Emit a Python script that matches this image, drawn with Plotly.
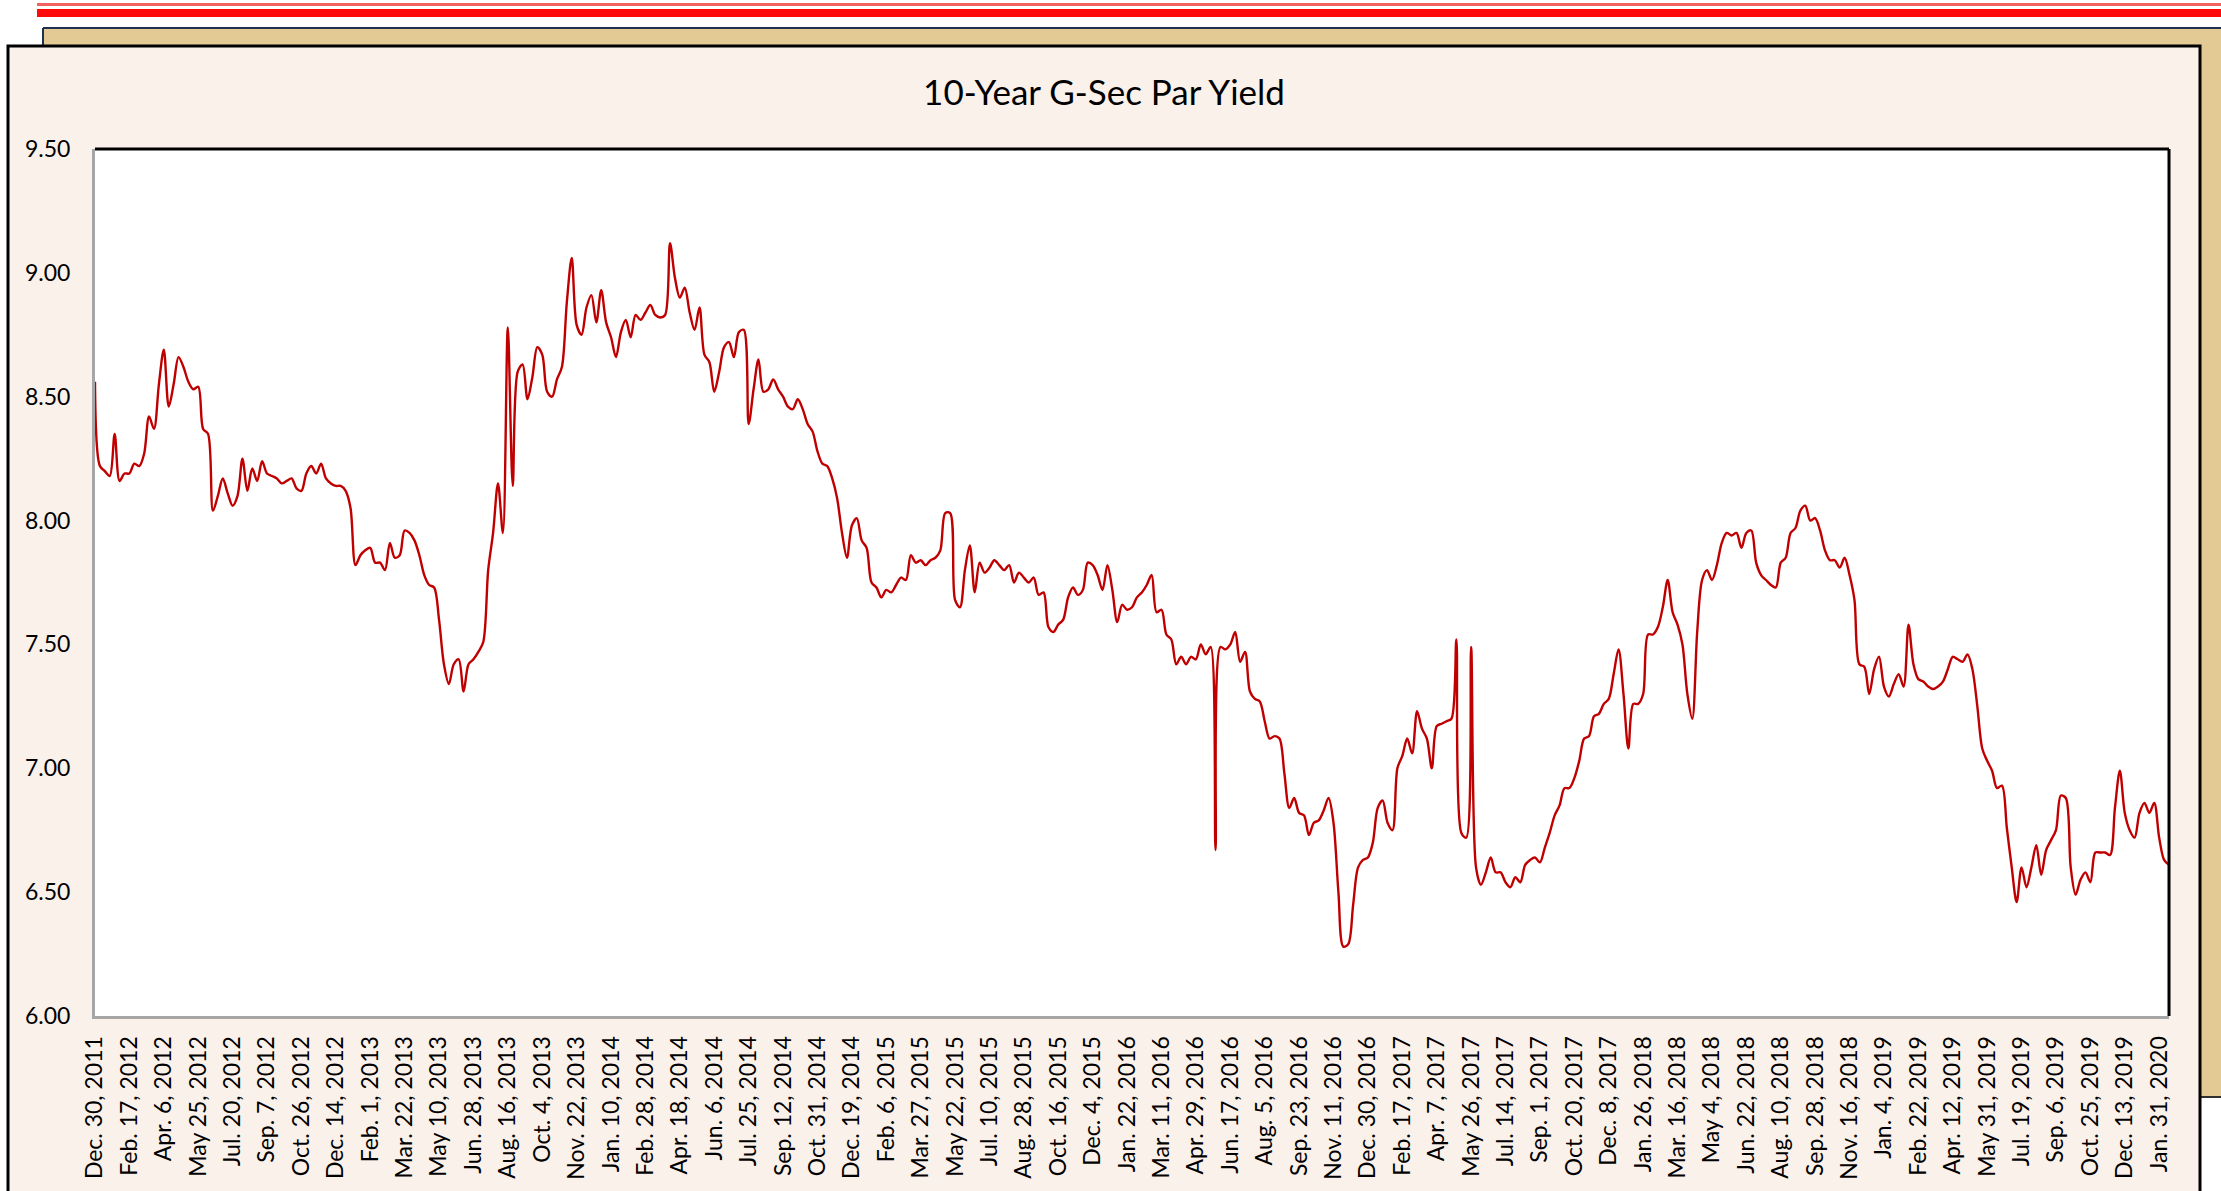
import pandas as pd
import plotly.graph_objects as go

# ---------------- data ----------------
title_text = "10-Year G-Sec Par Yield"

# weekly (Friday) observation dates; two weeks are absent from the series
week_dates = pd.date_range("2011-12-30", periods=425, freq="7D")
missing_weeks = ["2012-06-29", "2015-04-03"]
categories = [d.strftime("%Y-%m-%d") for d in week_dates if d.strftime("%Y-%m-%d") not in missing_weeks]

yield_values = [
    8.56, 8.22, 8.20, 8.18, 8.35, 8.16, 8.19, 8.19, 8.23, 8.22,
    8.27, 8.42, 8.37, 8.55, 8.69, 8.46, 8.55, 8.66, 8.62, 8.56,
    8.53, 8.54, 8.37, 8.35, 8.04, 8.10, 8.17, 8.11, 8.06, 8.10,
    8.25, 8.12, 8.21, 8.16, 8.24, 8.19, 8.18, 8.17, 8.15, 8.16,
    8.17, 8.13, 8.12, 8.19, 8.22, 8.19, 8.23, 8.17, 8.15, 8.14,
    8.14, 8.12, 8.05, 7.82, 7.86, 7.88, 7.89, 7.83, 7.83, 7.80,
    7.91, 7.85, 7.86, 7.96, 7.95, 7.92, 7.86, 7.78, 7.74, 7.73,
    7.60, 7.42, 7.34, 7.42, 7.44, 7.31, 7.42, 7.44, 7.47, 7.51,
    7.80, 7.95, 8.15, 7.95, 8.78, 8.14, 8.60, 8.63, 8.49, 8.58,
    8.70, 8.67, 8.52, 8.50, 8.57, 8.62, 8.88, 9.06, 8.79, 8.75,
    8.86, 8.91, 8.80, 8.93, 8.80, 8.74, 8.66, 8.76, 8.81, 8.74,
    8.83, 8.81, 8.84, 8.87, 8.83, 8.82, 8.83, 9.12, 8.98, 8.90,
    8.94, 8.84, 8.77, 8.86, 8.67, 8.64, 8.52, 8.60, 8.70, 8.72,
    8.66, 8.76, 8.77, 8.39, 8.53, 8.65, 8.52, 8.53, 8.57, 8.53,
    8.50, 8.46, 8.45, 8.49, 8.45, 8.39, 8.36, 8.28, 8.23, 8.22,
    8.17, 8.09, 7.95, 7.85, 7.98, 8.01, 7.92, 7.89, 7.75, 7.73,
    7.69, 7.72, 7.71, 7.74, 7.77, 7.76, 7.86, 7.83, 7.84, 7.82,
    7.84, 7.85, 7.88, 8.03, 8.03, 7.68, 7.65, 7.80, 7.90, 7.71,
    7.83, 7.79, 7.81, 7.84, 7.82, 7.80, 7.82, 7.75, 7.79, 7.77,
    7.75, 7.77, 7.70, 7.71, 7.57, 7.55, 7.58, 7.60, 7.69, 7.73,
    7.70, 7.72, 7.83, 7.82, 7.78, 7.72, 7.82, 7.72, 7.59, 7.66,
    7.64, 7.65, 7.69, 7.71, 7.74, 7.78, 7.63, 7.64, 7.54, 7.52,
    7.42, 7.45, 7.42, 7.45, 7.44, 7.50, 7.46, 7.49, 6.67, 7.49,
    7.48, 7.50, 7.55, 7.43, 7.47, 7.31, 7.28, 7.27, 7.19, 7.12,
    7.13, 7.12, 6.98, 6.84, 6.88, 6.82, 6.81, 6.73, 6.78, 6.79,
    6.83, 6.88, 6.78, 6.50, 6.28, 6.29, 6.45, 6.60, 6.63, 6.64,
    6.70, 6.84, 6.87, 6.78, 6.75, 7.00, 7.05, 7.12, 7.06, 7.23,
    7.16, 7.12, 7.00, 7.17, 7.18, 7.19, 7.20, 7.52, 6.74, 6.72,
    7.49, 6.60, 6.53, 6.58, 6.64, 6.58, 6.58, 6.54, 6.52, 6.56,
    6.54, 6.61, 6.63, 6.64, 6.62, 6.68, 6.74, 6.81, 6.85, 6.92,
    6.92, 6.96, 7.03, 7.12, 7.13, 7.21, 7.22, 7.26, 7.28, 7.38,
    7.48, 7.30, 7.08, 7.26, 7.26, 7.30, 7.54, 7.54, 7.57, 7.65,
    7.76, 7.63, 7.58, 7.50, 7.30, 7.20, 7.55, 7.76, 7.80, 7.76,
    7.82, 7.91, 7.95, 7.94, 7.95, 7.89, 7.95, 7.96, 7.83, 7.78,
    7.76, 7.74, 7.73, 7.83, 7.85, 7.95, 7.97, 8.04, 8.06, 8.00,
    8.01, 7.96, 7.88, 7.84, 7.84, 7.81, 7.85, 7.78, 7.68, 7.42,
    7.41, 7.30, 7.40, 7.45, 7.33, 7.29, 7.34, 7.38, 7.33, 7.58,
    7.42, 7.36, 7.35, 7.33, 7.32, 7.33, 7.35, 7.40, 7.45, 7.44,
    7.43, 7.46, 7.40, 7.25, 7.08, 7.03, 6.99, 6.92, 6.93, 6.76,
    6.60, 6.46, 6.60, 6.52, 6.60, 6.69, 6.57, 6.67, 6.71, 6.75,
    6.89, 6.88, 6.60, 6.49, 6.55, 6.58, 6.54, 6.66, 6.66, 6.66,
    6.65, 6.84, 6.99, 6.82, 6.75, 6.72, 6.82, 6.86, 6.82, 6.86,
    6.72, 6.63, 6.61,
]

x_tick_labels = [
    "Dec. 30, 2011", "Feb. 17, 2012", "Apr. 6, 2012", "May 25, 2012", "Jul. 20, 2012",
    "Sep. 7, 2012", "Oct. 26, 2012", "Dec. 14, 2012", "Feb. 1, 2013", "Mar. 22, 2013",
    "May 10, 2013", "Jun. 28, 2013", "Aug. 16, 2013", "Oct. 4, 2013", "Nov. 22, 2013",
    "Jan. 10, 2014", "Feb. 28, 2014", "Apr. 18, 2014", "Jun. 6, 2014", "Jul. 25, 2014",
    "Sep. 12, 2014", "Oct. 31, 2014", "Dec. 19, 2014", "Feb. 6, 2015", "Mar. 27, 2015",
    "May 22, 2015", "Jul. 10, 2015", "Aug. 28, 2015", "Oct. 16, 2015", "Dec. 4, 2015",
    "Jan. 22, 2016", "Mar. 11, 2016", "Apr. 29, 2016", "Jun. 17, 2016", "Aug. 5, 2016",
    "Sep. 23, 2016", "Nov. 11, 2016", "Dec. 30, 2016", "Feb. 17, 2017", "Apr. 7, 2017",
    "May 26, 2017", "Jul. 14, 2017", "Sep. 1, 2017", "Oct. 20, 2017", "Dec. 8, 2017",
    "Jan. 26, 2018", "Mar. 16, 2018", "May 4, 2018", "Jun. 22, 2018", "Aug. 10, 2018",
    "Sep. 28, 2018", "Nov. 16, 2018", "Jan. 4, 2019", "Feb. 22, 2019", "Apr. 12, 2019",
    "May 31, 2019", "Jul. 19, 2019", "Sep. 6, 2019", "Oct. 25, 2019", "Dec. 13, 2019",
    "Jan. 31, 2020",
]
label_step = 7
y_tick_values = [6.0, 6.5, 7.0, 7.5, 8.0, 8.5, 9.0, 9.5]

# ---------------- layout geometry (pixels) ----------------
W, H = 2221, 1191
PL, PR, PT, PB = 95, 2169, 149, 1016


def px(x):
    return (x - PL) / (PR - PL)


def py(y):
    return (PB - y) / (PB - PT)


FONT = "Lato, Carlito, Calibri, 'Open Sans', sans-serif"

fig = go.Figure()
fig.add_trace(go.Scatter(
    x=categories,
    y=yield_values,
    mode="lines",
    line=dict(color="#C00000", width=2.4, shape="spline", smoothing=0.9),
    hoverinfo="x+y",
    showlegend=False,
))

tan = "#E3C993"
shapes = [
    # thin + thick red rules at the very top
    dict(type="rect", xref="paper", yref="paper", x0=px(37), x1=px(W), y0=py(3), y1=py(6),
         fillcolor="#F26060", line=dict(width=0), layer="below"),
    dict(type="rect", xref="paper", yref="paper", x0=px(37), x1=px(W), y0=py(9), y1=py(17),
         fillcolor="#FF0A0A", line=dict(width=0), layer="below"),
    # tan textured frame (top band and right strip)
    dict(type="rect", xref="paper", yref="paper", x0=px(43), x1=px(W), y0=py(28), y1=py(48),
         fillcolor=tan, line=dict(width=0), layer="below"),
    dict(type="rect", xref="paper", yref="paper", x0=px(2198), x1=px(W), y0=py(28), y1=py(1096),
         fillcolor=tan, line=dict(width=0), layer="below"),
    dict(type="line", xref="paper", yref="paper", x0=px(43), x1=px(W), y0=py(28), y1=py(28),
         line=dict(color="#1F3050", width=2), layer="below"),
    dict(type="line", xref="paper", yref="paper", x0=px(43), x1=px(43), y0=py(28), y1=py(46),
         line=dict(color="#1F3050", width=2), layer="below"),
    dict(type="line", xref="paper", yref="paper", x0=px(2200), x1=px(W), y0=py(1097), y1=py(1097),
         line=dict(color="#303030", width=2), layer="below"),
    # chart area box
    dict(type="rect", xref="paper", yref="paper", x0=px(8), x1=px(2200), y0=py(46), y1=py(1230),
         fillcolor="#FAF1EB", line=dict(color="#000000", width=3), layer="below"),
    # plot area
    dict(type="rect", xref="paper", yref="paper", x0=0, x1=1, y0=0, y1=1,
         fillcolor="#FFFFFF", line=dict(width=0), layer="below"),
    # plot border: top & right black
    dict(type="line", xref="paper", yref="paper", x0=0, x1=1, y0=1, y1=1,
         line=dict(color="#000000", width=3), layer="above"),
    dict(type="line", xref="paper", yref="paper", x0=1, x1=1, y0=0, y1=1,
         line=dict(color="#000000", width=3), layer="above"),
]

fig.update_layout(
    width=W,
    height=H,
    margin=dict(l=PL, r=W - PR, t=PT, b=H - PB, pad=0, autoexpand=False),
    paper_bgcolor="#FFFFFF",
    plot_bgcolor="#FFFFFF",
    font=dict(family=FONT, color="#000000", size=22),
    title=dict(
        text=title_text,
        x=1104 / W, xanchor="center", xref="container",
        y=1 - 93 / H, yanchor="middle", yref="container",
        font=dict(family=FONT, size=35, color="#000000"),
    ),
    shapes=shapes,
    showlegend=False,
)

fig.update_xaxes(
    type="category",
    range=[0, len(categories) - 1],
    tickmode="array",
    tickvals=categories[::label_step],
    ticktext=x_tick_labels,
    tickangle=-90,
    tickfont=dict(family=FONT, size=23, color="#000000"),
    ticks="",
    ticklabelstandoff=8,
    automargin=False,
    showgrid=False,
    zeroline=False,
    showline=True,
    linecolor="#A6A6A6",
    linewidth=3,
)
fig.update_yaxes(
    range=[6.0, 9.5],
    tickmode="array",
    tickvals=y_tick_values,
    tickformat=".2f",
    tickfont=dict(family=FONT, size=23, color="#000000"),
    ticks="",
    ticklabelstandoff=17,
    automargin=False,
    showgrid=False,
    zeroline=False,
    showline=True,
    linecolor="#A6A6A6",
    linewidth=3,
)

fig.write_html(
    "out.html",
    config={"displayModeBar": False},
    post_script="document.body.style.margin='0';document.body.style.overflow='hidden';",
)
